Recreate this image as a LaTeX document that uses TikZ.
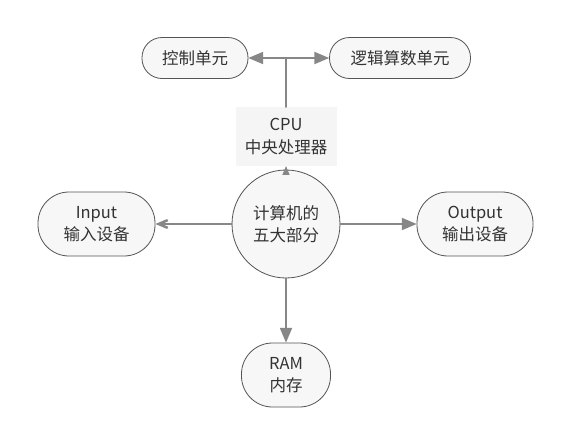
\documentclass[tikz,border=0pt]{standalone}
\usepackage{fontspec}
\setmainfont{Noto Sans CJK SC}
\usetikzlibrary{arrows}
\definecolor{qqqqqq}{rgb}{0.33,0.33,0.33}
\definecolor{ttttttt}{rgb}{0.2,0.2,0.2}
\definecolor{ccccccc}{rgb}{0.53,0.53,0.53}
\definecolor{fffffff}{rgb}{0.97,0.97,0.97}
\definecolor{eeeeeee}{rgb}{0.96,0.96,0.96}
\begin{document}
\begin{tikzpicture}[line cap=round,line join=round,>=triangle 45,x=1pt,y=-1pt,
	part/.style={draw=qqqqqq,fill=fffffff,text=ttttttt,line width=0.8pt,align=center,inner sep=0pt,font=\fontsize{16.5}{22}\selectfont},
	link/.style={color=ccccccc,line width=2.5pt}]
\useasboundingbox (0,0) rectangle (571,445);
\fill[white] (0,0) rectangle (571,445);
% top row
\node[part,rounded corners=20pt,minimum width=106pt,minimum height=41pt] (ctrl) at (195,58) {控制单元};
\node[part,rounded corners=20pt,minimum width=141pt,minimum height=41pt] (alu) at (400,58) {逻辑算数单元};
\node[fill=eeeeeee,text=ttttttt,align=center,inner sep=0pt,minimum width=101pt,minimum height=59pt,font=\fontsize{16.5}{23}\selectfont] (cpu) at (286,136.5) {CPU\\中央处理器};
\coordinate (fork) at (cpu.north |- ctrl.east);
% middle
\node[part,circle,minimum size=108pt] (core) at (286,224) {计算机的\\五大部分};
\node[part,rounded corners=31pt,minimum width=117pt,minimum height=64pt] (input) at (96.5,224) {Input\\输入设备};
\node[part,rounded corners=31pt,minimum width=116pt,minimum height=64pt] (output) at (475,224) {Output\\输出设备};
\node[part,rounded corners=31pt,minimum width=89pt,minimum height=64pt] (ram) at (286,375) {RAM\\内存};
% links
\draw [link,<->] (ctrl.east) -- (alu.west);
\draw [link] (fork) -- (cpu.north);
\draw [link,->,line width=1pt] (core.north) -- (cpu.south);
\draw [link,-angle 45] (core.west) -- (input.east);
\draw [link,->] (core.east) -- (output.west);
\draw [link,->] (core.south) -- (ram.north);
\end{tikzpicture}
\end{document}
